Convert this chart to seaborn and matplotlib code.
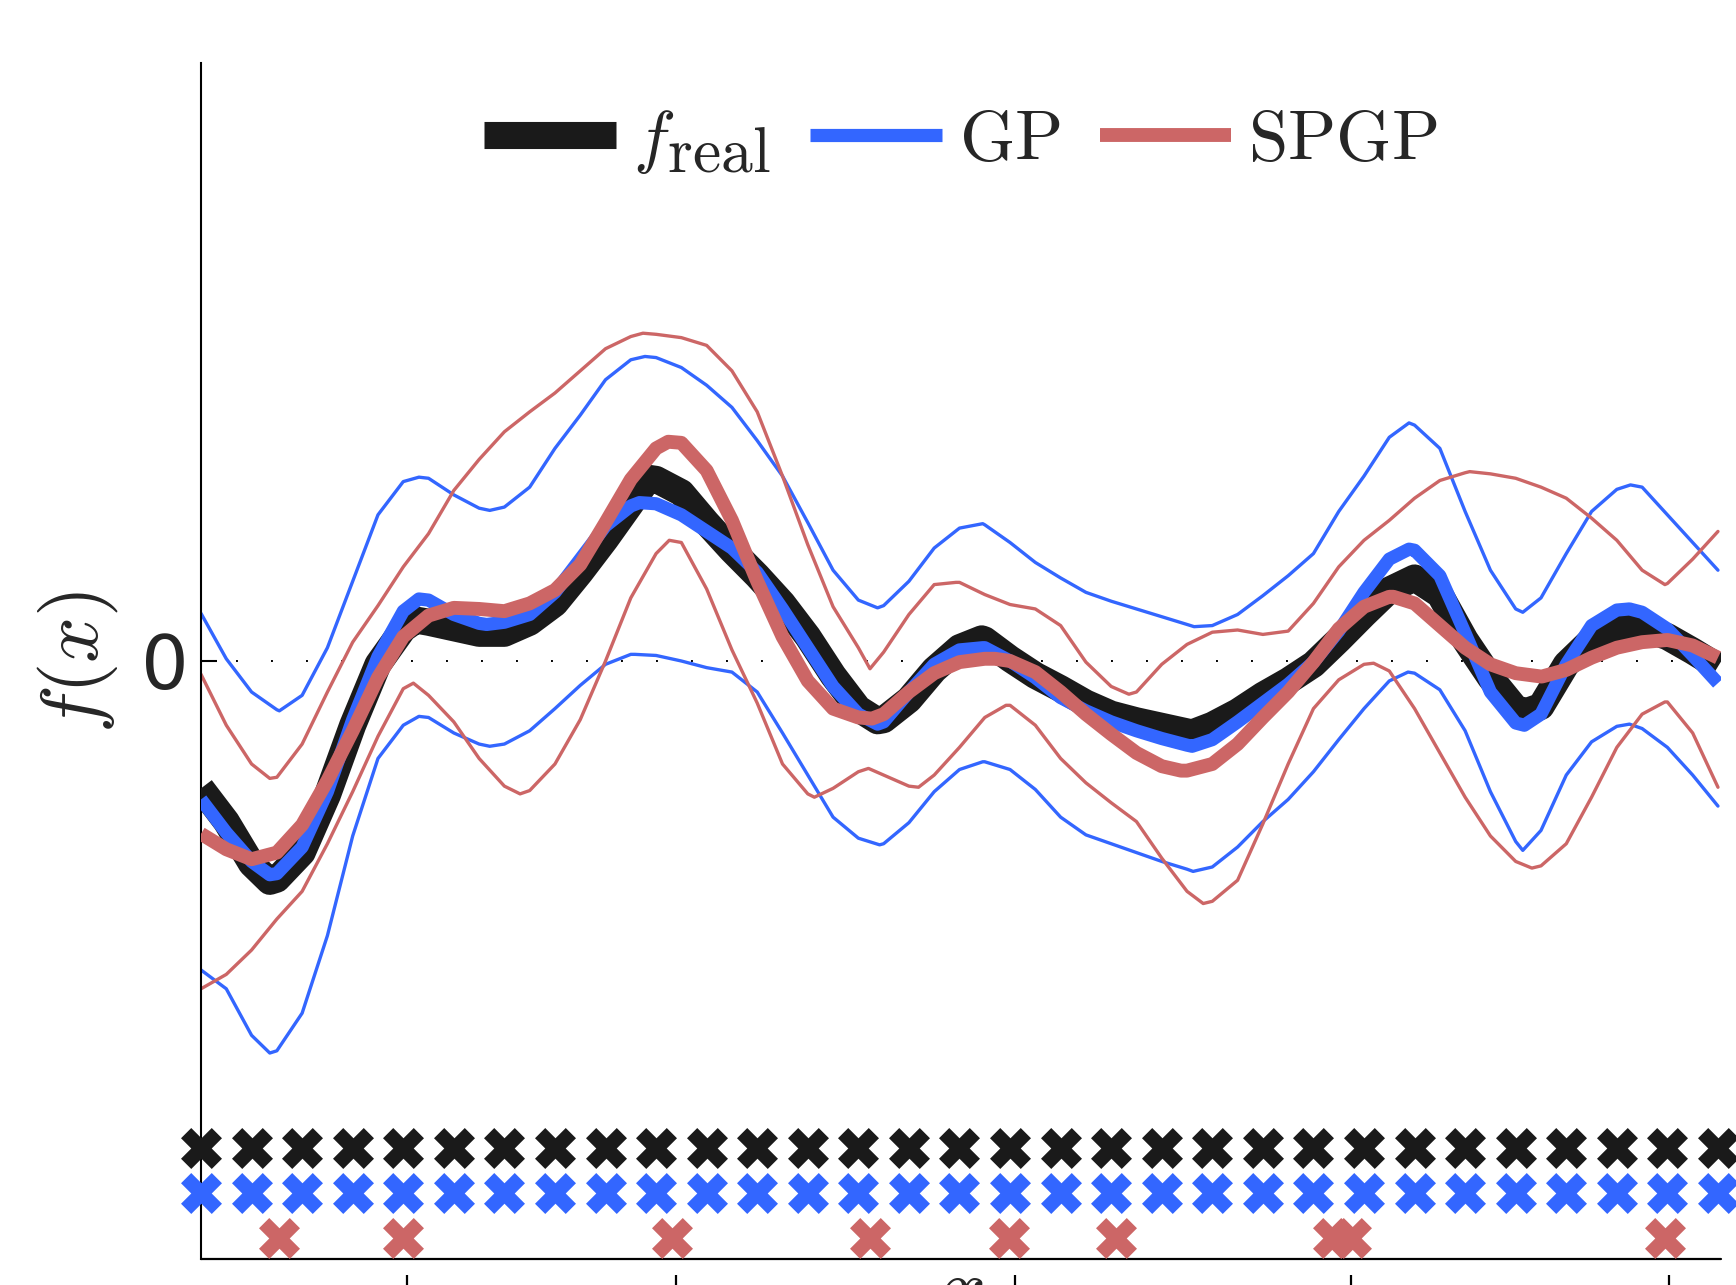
import numpy as np
import pandas as pd
import matplotlib
matplotlib.use("Agg")
import matplotlib.pyplot as plt
import matplotlib._mathtext as _mt
import seaborn as sns

# ---------------- data ----------------
x_grid = np.linspace(0, 30, 61)          # evaluation inputs (read every half step)
x_train = list(range(31))                # training inputs

f_real = [-1.15, -1.45, -1.83, -1.97, -1.73, -1.21, -0.58, -0.03, 0.29, 0.35,
          0.30, 0.25, 0.25, 0.35, 0.52, 0.80, 1.10, 1.42, 1.64, 1.52,
          1.25, 1.00, 0.77, 0.52, 0.22, -0.13, -0.43, -0.53, -0.35, -0.08,
          0.12, 0.19, 0.02, -0.13, -0.25, -0.38, -0.48, -0.54, -0.59, -0.64,
          -0.58, -0.46, -0.31, -0.18, -0.03, 0.19, 0.42, 0.64, 0.75, 0.60,
          0.19, -0.15, -0.43, -0.41, -0.03, 0.19, 0.30, 0.30, 0.22, 0.09, -0.05]

gp_mean = [-1.25, -1.55, -1.81, -1.92, -1.68, -1.18, -0.53, 0.04, 0.45, 0.55,
           0.42, 0.34, 0.35, 0.42, 0.62, 0.92, 1.22, 1.40, 1.42, 1.32,
           1.17, 1.02, 0.80, 0.47, 0.12, -0.23, -0.48, -0.55, -0.28, -0.03,
           0.10, 0.12, 0.00, -0.15, -0.33, -0.45, -0.55, -0.63, -0.70, -0.76,
           -0.71, -0.55, -0.38, -0.21, -0.01, 0.27, 0.62, 0.92, 1.00, 0.77,
           0.25, -0.28, -0.56, -0.48, -0.03, 0.32, 0.46, 0.44, 0.29, 0.05, -0.20]

gp_upper = [0.43, 0.02, -0.28, -0.44, -0.31, 0.12, 0.72, 1.32, 1.62, 1.65,
            1.50, 1.38, 1.39, 1.57, 1.92, 2.22, 2.54, 2.72, 2.74, 2.65,
            2.49, 2.29, 1.99, 1.67, 1.25, 0.82, 0.55, 0.50, 0.72, 1.02,
            1.20, 1.23, 1.07, 0.89, 0.75, 0.62, 0.54, 0.47, 0.40, 0.33,
            0.32, 0.42, 0.59, 0.77, 0.97, 1.35, 1.67, 2.02, 2.13, 1.92,
            1.35, 0.82, 0.47, 0.57, 0.97, 1.35, 1.55, 1.57, 1.32, 1.07, 0.82]

gp_lower = [-2.79, -2.96, -3.38, -3.52, -3.18, -2.48, -1.58, -0.88, -0.58, -0.51,
            -0.65, -0.75, -0.75, -0.63, -0.43, -0.22, -0.03, 0.06, 0.05, 0.00,
            -0.06, -0.10, -0.28, -0.65, -1.03, -1.41, -1.60, -1.65, -1.46, -1.18,
            -0.98, -0.91, -0.98, -1.16, -1.41, -1.57, -1.65, -1.73, -1.81, -1.88,
            -1.86, -1.68, -1.45, -1.25, -1.00, -0.71, -0.43, -0.18, -0.11, -0.26,
            -0.63, -1.18, -1.63, -1.53, -1.03, -0.73, -0.59, -0.61, -0.78, -1.03, -1.31]

spgp_mean = [-1.56, -1.70, -1.79, -1.73, -1.48, -1.08, -0.63, -0.15, 0.22, 0.41,
             0.48, 0.47, 0.45, 0.52, 0.64, 0.87, 1.25, 1.64, 1.92, 1.97,
             1.72, 1.27, 0.72, 0.22, -0.18, -0.43, -0.51, -0.48, -0.28, -0.11,
             -0.01, 0.02, 0.00, -0.10, -0.28, -0.48, -0.66, -0.83, -0.95, -0.99,
             -0.93, -0.75, -0.51, -0.28, -0.01, 0.29, 0.49, 0.58, 0.52, 0.32,
             0.12, -0.03, -0.11, -0.14, -0.08, 0.03, 0.12, 0.17, 0.19, 0.14, 0.03]

spgp_upper = [-0.12, -0.58, -0.93, -1.05, -0.75, -0.28, 0.17, 0.50, 0.85, 1.15,
              1.54, 1.82, 2.07, 2.25, 2.42, 2.62, 2.82, 2.93, 2.95, 2.92,
              2.85, 2.62, 2.25, 1.67, 1.05, 0.49, 0.12, 0.08, 0.42, 0.69,
              0.71, 0.60, 0.51, 0.47, 0.32, -0.01, -0.23, -0.28, -0.03, 0.15,
              0.26, 0.28, 0.24, 0.27, 0.52, 0.85, 1.09, 1.27, 1.47, 1.63,
              1.70, 1.69, 1.65, 1.57, 1.47, 1.29, 1.09, 0.82, 0.70, 0.92, 1.17]

spgp_lower = [-2.96, -2.83, -2.61, -2.33, -2.08, -1.65, -1.18, -0.68, -0.25, -0.31,
              -0.55, -0.88, -1.13, -1.17, -0.93, -0.53, 0.00, 0.57, 0.97, 1.07,
              0.65, 0.10, -0.38, -0.93, -1.20, -1.15, -1.00, -1.03, -1.13, -1.03,
              -0.78, -0.51, -0.40, -0.58, -0.88, -1.10, -1.28, -1.45, -1.78, -2.08,
              -2.17, -1.98, -1.47, -0.93, -0.43, -0.17, -0.03, -0.09, -0.43, -0.83,
              -1.23, -1.58, -1.81, -1.85, -1.65, -1.23, -0.78, -0.48, -0.37, -0.65, -1.14]

f_real_turns = [(1.36, -1.99), (4.25, 0.37), (8.85, 1.65), (13.38, -0.54),
                (15.44, 0.20), (19.60, -0.65), (26.19, -0.46), (28.20, 0.31)]
gp_mean_turns = [(1.36, -1.93), (4.31, 0.56), (5.65, 0.33), (8.67, 1.43),
                 (13.38, -0.57), (15.46, 0.12), (19.60, -0.77), (23.89, 1.01),
                 (26.17, -0.58), (28.25, 0.47)]
gp_upper_turns = [(1.55, -0.45), (4.31, 1.66), (5.71, 1.36), (8.78, 2.75),
                  (13.38, 0.48), (15.46, 1.24), (19.64, 0.31), (23.89, 2.15),
                  (26.14, 0.44), (28.27, 1.59)]
gp_lower_turns = [(1.36, -3.54), (4.31, -0.50), (5.71, -0.77), (8.58, 0.06),
                  (13.42, -1.66), (15.46, -0.91), (19.62, -1.90), (23.87, -0.10),
                  (26.14, -1.71), (28.25, -0.57)]
spgp_mean_turns = [(9.24, 1.98), (13.27, -0.52), (15.70, 0.02), (19.38, -0.99),
                   (23.58, 0.58), (26.52, -0.14)]
spgp_upper_turns = [(1.36, -1.06), (8.74, 2.96), (13.23, -0.07), (14.93, 0.71),
                    (18.35, -0.30), (25.09, 1.71), (28.95, 0.69)]
spgp_lower_turns = [(4.20, -0.20), (6.31, -1.20), (9.26, 1.09), (12.13, -1.23),
                    (13.20, -0.97), (14.19, -1.14), (15.92, -0.40), (19.82, -2.19),
                    (23.19, -0.02), (26.32, -1.87), (28.95, -0.37)]

inducing_x = [1.54, 3.99, 9.31, 13.23, 15.98, 18.09, 22.38, 22.74, 28.95]
xtick_pos = [4.07, 9.39, 16.10, 22.74, 29.03]
legend_labels = [r"$f_{\mathrm{real}}$", r"$\mathrm{GP}$", r"$\mathrm{SPGP}$"]

# ---------------- style ----------------
sns.set_style("white")
plt.rcParams["font.family"] = ["DejaVu Sans"]
plt.rcParams["mathtext.fontset"] = "cm"
_mt.SHRINK_FACTOR = 0.9   # large subscript as in the original LaTeX legend

BLACK = "#1a1a1a"
BLUE = "#3366ff"
RED = "#cc6666"


def curve_frame(values, turns):
    xs = list(x_grid) + [t[0] for t in turns]
    ys = list(values) + [t[1] for t in turns]
    return pd.DataFrame({"x": xs, "y": ys}).sort_values("x")


fig = plt.figure(figsize=(17.36, 12.85), dpi=100)
ax = fig.add_axes([201 / 1736, 26 / 1285, 1520 / 1736, 1196 / 1285])

YMIN, YMAX = -5.40, 5.40
ROW_Y = {"f": -4.40, "gp": -4.80, "spgp": -5.21}

# zero reference line
ax.axhline(0, color="black", lw=1.4, ls=(0, (1, 17)), zorder=1)

# predictive bounds
for vals, turns, c in [(gp_upper, gp_upper_turns, BLUE), (gp_lower, gp_lower_turns, BLUE),
                       (spgp_upper, spgp_upper_turns, RED), (spgp_lower, spgp_lower_turns, RED)]:
    sns.lineplot(data=curve_frame(vals, turns), x="x", y="y", ax=ax, color=c, lw=2.4,
                 estimator=None, zorder=2, legend=False, solid_joinstyle="round")

handles = []
for vals, turns, c, lw in [(f_real, f_real_turns, BLACK, 19.5),
                           (gp_mean, gp_mean_turns, BLUE, 9.5),
                           (spgp_mean, spgp_mean_turns, RED, 10.0)]:
    sns.lineplot(data=curve_frame(vals, turns), x="x", y="y", ax=ax, color=c, lw=lw,
                 estimator=None, zorder=3, legend=False,
                 solid_capstyle="butt", solid_joinstyle="round")
    handles.append(ax.lines[-1])

# data / inducing input markers
msz = 29.5 ** 2
sns.scatterplot(x=x_train, y=[ROW_Y["f"]] * len(x_train), ax=ax, marker="X",
                s=msz, color=BLACK, linewidth=0, clip_on=False, zorder=5, legend=False)
sns.scatterplot(x=x_train, y=[ROW_Y["gp"]] * len(x_train), ax=ax, marker="X",
                s=msz, color=BLUE, linewidth=0, clip_on=False, zorder=5, legend=False)
sns.scatterplot(x=inducing_x, y=[ROW_Y["spgp"]] * len(inducing_x), ax=ax, marker="X",
                s=msz, color=RED, linewidth=0, clip_on=False, zorder=5, legend=False)

ax.set_xlim(0, 30.06)
ax.set_ylim(YMIN, YMAX)

# axes decoration
for s in ["top", "right"]:
    ax.spines[s].set_visible(False)
ax.spines["left"].set_linewidth(1.5)
ax.spines["left"].set_color("black")
ax.spines["bottom"].set_position(("outward", 11.5))
ax.spines["bottom"].set_visible(False)
ax.axhline(YMIN, color="black", lw=1.6, clip_on=False, zorder=4)

ax.set_yticks([0])
ax.set_yticklabels(["0"])
ax.tick_params(axis="y", direction="in", length=11.5, width=1.5,
               labelsize=54, pad=9, color="black", left=True)
ax.set_xticks(xtick_pos)
ax.set_xticklabels([""] * len(xtick_pos))
ax.tick_params(axis="x", direction="out", length=16, width=1.6,
               color="black", bottom=True)

ax.set_ylabel(r"$f(x)$", fontsize=58)
ax.yaxis.set_label_coords(-0.053, 0.499)
ax.set_xlabel(r"$x$", fontsize=58)
ax.xaxis.set_label_coords(0.5, 0.005)

ax.legend(handles, legend_labels, loc="center", bbox_to_anchor=(0.5, 0.935),
          ncol=3, frameon=False, fontsize=51, handlelength=1.86,
          handletextpad=0.24, columnspacing=0.55, borderpad=0, borderaxespad=0)

fig.savefig("out.png", dpi=100)
